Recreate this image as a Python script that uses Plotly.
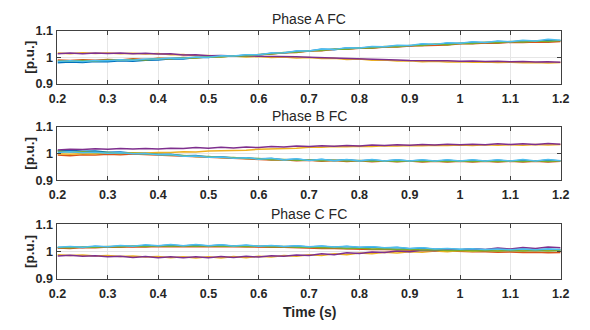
import plotly.graph_objects as go

# ---------------- data ----------------
TIME = [0.2, 0.225, 0.25, 0.275, 0.3, 0.325, 0.35, 0.375, 0.4, 0.425, 0.45, 0.475,
        0.5, 0.525, 0.55, 0.575, 0.6, 0.625, 0.65, 0.675, 0.7, 0.725, 0.75, 0.775,
        0.8, 0.825, 0.85, 0.875, 0.9, 0.925, 0.95, 0.975, 1.0, 1.025, 1.05, 1.075,
        1.1, 1.125, 1.15, 1.175, 1.2]

X_TICKS = [0.2, 0.3, 0.4, 0.5, 0.6, 0.7, 0.8, 0.9, 1.0, 1.1, 1.2]
X_TICK_LABELS = ["0.2", "0.3", "0.4", "0.5", "0.6", "0.7", "0.8", "0.9", "1", "1.1", "1.2"]
Y_TICKS = [0.9, 1.0, 1.1]
Y_TICK_LABELS = ["0.9", "1", "1.1"]

PANEL_TITLES = ["Phase A FC", "Phase B FC", "Phase C FC"]
SERIES_NAMES = ["blue", "orange", "yellow", "purple", "green", "cyan"]

# Phase A
A_BLUE = [0.979, 0.982, 0.980, 0.984, 0.983, 0.987, 0.985, 0.989, 0.990, 0.994, 0.993, 0.999, 0.999, 1.005,
          1.004, 1.009, 1.009, 1.015, 1.016, 1.023, 1.024, 1.030, 1.029, 1.035, 1.034, 1.039, 1.039, 1.044,
          1.043, 1.049, 1.048, 1.053, 1.052, 1.057, 1.055, 1.060, 1.058, 1.063, 1.060, 1.065, 1.063]
A_ORANGE = [0.990, 0.988, 0.991, 0.989, 0.992, 0.990, 0.994, 0.992, 0.996, 0.995, 0.999, 0.998, 1.002, 1.002,
            1.006, 1.005, 1.010, 1.012, 1.017, 1.018, 1.024, 1.025, 1.030, 1.030, 1.034, 1.034, 1.039, 1.039,
            1.043, 1.044, 1.047, 1.047, 1.051, 1.051, 1.054, 1.053, 1.057, 1.056, 1.058, 1.057, 1.060]
A_YELLOW = [1.016, 1.013, 1.017, 1.014, 1.016, 1.013, 1.015, 1.012, 1.014, 1.010, 1.011, 1.006, 1.007, 1.003,
            1.005, 1.001, 1.003, 0.999, 1.001, 0.997, 0.999, 0.995, 0.996, 0.992, 0.993, 0.989, 0.990, 0.986,
            0.987, 0.983, 0.985, 0.982, 0.983, 0.981, 0.982, 0.980, 0.981, 0.979, 0.980, 0.978, 0.980]
A_PURPLE = [1.013, 1.016, 1.013, 1.016, 1.014, 1.016, 1.013, 1.015, 1.012, 1.013, 1.009, 1.010, 1.006, 1.007,
            1.005, 1.006, 1.004, 1.004, 1.002, 1.002, 1.000, 0.999, 0.997, 0.996, 0.994, 0.993, 0.991, 0.990,
            0.988, 0.988, 0.986, 0.987, 0.985, 0.986, 0.984, 0.985, 0.983, 0.984, 0.982, 0.983, 0.981]
A_GREEN = [0.986, 0.985, 0.988, 0.986, 0.990, 0.989, 0.992, 0.990, 0.995, 0.994, 0.998, 0.997, 1.002, 1.001,
           1.006, 1.005, 1.011, 1.012, 1.018, 1.019, 1.025, 1.026, 1.031, 1.030, 1.036, 1.035, 1.041, 1.040,
           1.045, 1.045, 1.050, 1.048, 1.053, 1.052, 1.057, 1.055, 1.060, 1.058, 1.062, 1.060, 1.064]
A_CYAN = [0.984, 0.987, 0.984, 0.988, 0.987, 0.991, 0.989, 0.993, 0.993, 0.997, 0.996, 1.001, 1.000, 1.006,
          1.005, 1.010, 1.010, 1.016, 1.017, 1.024, 1.024, 1.031, 1.030, 1.036, 1.035, 1.041, 1.040, 1.046,
          1.045, 1.051, 1.049, 1.055, 1.053, 1.059, 1.056, 1.062, 1.059, 1.065, 1.062, 1.068, 1.065]

# Phase B
B_BLUE = [1.010, 1.012, 1.008, 1.009, 1.005, 1.006, 1.001, 1.002, 0.997, 0.997, 0.992, 0.993, 0.987, 0.988,
          0.983, 0.984, 0.980, 0.981, 0.977, 0.979, 0.975, 0.978, 0.974, 0.977, 0.973, 0.976, 0.972, 0.976,
          0.972, 0.975, 0.971, 0.975, 0.971, 0.975, 0.971, 0.975, 0.971, 0.975, 0.971, 0.976, 0.972]
B_ORANGE = [0.994, 0.992, 0.995, 0.994, 0.997, 0.995, 0.998, 0.996, 0.996, 0.993, 0.992, 0.989, 0.988, 0.984,
            0.984, 0.980, 0.980, 0.976, 0.977, 0.973, 0.975, 0.971, 0.974, 0.970, 0.973, 0.969, 0.972, 0.969,
            0.972, 0.968, 0.971, 0.968, 0.971, 0.968, 0.971, 0.968, 0.971, 0.968, 0.971, 0.968, 0.971]
B_YELLOW = [0.999, 0.997, 1.000, 0.999, 1.002, 1.000, 1.003, 1.002, 1.004, 1.004, 1.007, 1.006, 1.009, 1.010,
            1.013, 1.012, 1.016, 1.017, 1.020, 1.020, 1.023, 1.023, 1.026, 1.025, 1.027, 1.026, 1.029, 1.028,
            1.030, 1.029, 1.031, 1.030, 1.032, 1.030, 1.033, 1.031, 1.033, 1.031, 1.034, 1.032, 1.034]
B_PURPLE = [1.013, 1.016, 1.015, 1.018, 1.016, 1.019, 1.017, 1.019, 1.017, 1.020, 1.019, 1.022, 1.020, 1.023,
            1.021, 1.024, 1.022, 1.026, 1.024, 1.028, 1.026, 1.029, 1.027, 1.030, 1.028, 1.032, 1.030, 1.033,
            1.031, 1.034, 1.032, 1.035, 1.033, 1.035, 1.033, 1.036, 1.034, 1.036, 1.034, 1.037, 1.035]
B_GREEN = [1.008, 1.006, 1.007, 1.004, 1.004, 1.001, 1.001, 0.998, 0.997, 0.994, 0.993, 0.989, 0.989, 0.985,
           0.985, 0.981, 0.981, 0.977, 0.978, 0.975, 0.976, 0.973, 0.975, 0.972, 0.974, 0.971, 0.973, 0.970,
           0.973, 0.970, 0.972, 0.970, 0.972, 0.970, 0.972, 0.970, 0.972, 0.970, 0.973, 0.970, 0.973]
B_CYAN = [1.004, 1.007, 1.003, 1.005, 1.001, 1.003, 0.999, 1.000, 0.995, 0.996, 0.990, 0.991, 0.986, 0.987,
          0.982, 0.984, 0.979, 0.982, 0.976, 0.980, 0.974, 0.979, 0.973, 0.978, 0.972, 0.978, 0.972, 0.977,
          0.972, 0.977, 0.972, 0.977, 0.972, 0.977, 0.972, 0.977, 0.972, 0.978, 0.972, 0.978, 0.973]

# Phase C
C_BLUE = [1.014, 1.017, 1.015, 1.019, 1.017, 1.021, 1.019, 1.023, 1.021, 1.024, 1.021, 1.024, 1.021, 1.024,
          1.020, 1.023, 1.019, 1.022, 1.018, 1.021, 1.017, 1.020, 1.016, 1.019, 1.015, 1.017, 1.013, 1.015,
          1.011, 1.013, 1.009, 1.011, 1.008, 1.010, 1.007, 1.009, 1.006, 1.009, 1.006, 1.009, 1.006]
C_ORANGE = [1.013, 1.012, 1.015, 1.014, 1.017, 1.016, 1.018, 1.017, 1.019, 1.018, 1.019, 1.018, 1.019, 1.018,
            1.018, 1.017, 1.017, 1.016, 1.016, 1.014, 1.014, 1.012, 1.012, 1.010, 1.010, 1.008, 1.008, 1.006,
            1.006, 1.004, 1.004, 1.002, 1.002, 1.000, 1.000, 0.998, 0.999, 0.997, 0.998, 0.996, 0.997]
C_YELLOW = [0.989, 0.986, 0.988, 0.984, 0.986, 0.982, 0.984, 0.980, 0.982, 0.978, 0.981, 0.977, 0.981, 0.977,
            0.982, 0.978, 0.983, 0.980, 0.986, 0.983, 0.989, 0.986, 0.992, 0.989, 0.995, 0.992, 0.998, 0.995,
            1.000, 0.998, 1.002, 1.000, 1.004, 1.001, 1.005, 1.002, 1.006, 1.003, 1.007, 1.004, 1.007]
C_PURPLE = [0.984, 0.987, 0.983, 0.985, 0.981, 0.983, 0.979, 0.982, 0.978, 0.981, 0.978, 0.981, 0.978, 0.982,
            0.979, 0.983, 0.980, 0.985, 0.983, 0.988, 0.986, 0.992, 0.989, 0.996, 0.993, 0.999, 0.997, 1.002,
            1.000, 1.005, 1.003, 1.008, 1.006, 1.011, 1.008, 1.013, 1.010, 1.015, 1.012, 1.017, 1.014]
C_GREEN = [1.015, 1.014, 1.017, 1.016, 1.019, 1.018, 1.021, 1.019, 1.022, 1.020, 1.022, 1.020, 1.022, 1.020,
           1.021, 1.019, 1.020, 1.018, 1.019, 1.016, 1.017, 1.014, 1.015, 1.012, 1.013, 1.010, 1.011, 1.008,
           1.009, 1.006, 1.007, 1.004, 1.005, 1.003, 1.004, 1.002, 1.004, 1.002, 1.004, 1.002, 1.004]
C_CYAN = [1.016, 1.019, 1.016, 1.021, 1.018, 1.023, 1.020, 1.025, 1.022, 1.026, 1.022, 1.026, 1.022, 1.025,
          1.021, 1.024, 1.020, 1.023, 1.019, 1.022, 1.018, 1.021, 1.017, 1.020, 1.016, 1.018, 1.014, 1.016,
          1.012, 1.014, 1.010, 1.012, 1.009, 1.011, 1.008, 1.010, 1.007, 1.010, 1.007, 1.010, 1.008]

PANELS = [
    [A_BLUE, A_ORANGE, A_YELLOW, A_PURPLE, A_GREEN, A_CYAN],
    [B_BLUE, B_ORANGE, B_YELLOW, B_PURPLE, B_GREEN, B_CYAN],
    [C_BLUE, C_ORANGE, C_YELLOW, C_PURPLE, C_GREEN, C_CYAN],
]

# ---------------- style ----------------
COLORS = ["#0072BD", "#D95319", "#EDB120", "#7E2F8E", "#77AC30", "#4DBEEE"]
W, H = 590, 330
X0, X1 = 50, 569                       # plot area left/right (px)
PANEL_PX = [(25, 80), (125, 181), (227, 284)]   # top/bottom (px)
TITLE_Y = [13, 114, 216]
FONT = "Arial, 'Liberation Sans', sans-serif"
AXIS_COL = "#404040"


def py(v):
    return 1 - v / H


def px(v):
    return v / W


fig = go.Figure()
layout = dict(
    width=W, height=H, margin=dict(l=0, r=0, t=0, b=0),
    paper_bgcolor="white", plot_bgcolor="white", showlegend=False,
    font=dict(family=FONT, color="#262626"),
)
annotations = []

for k, series in enumerate(PANELS):
    suffix = "" if k == 0 else str(k + 1)
    for name, ys, col in zip(SERIES_NAMES, series, COLORS):
        fig.add_trace(go.Scatter(x=TIME, y=ys, mode="lines", name=name,
                                 line=dict(color=col, width=1.5),
                                 xaxis="x" + suffix, yaxis="y" + suffix))
    top, bot = PANEL_PX[k]
    layout["xaxis" + suffix] = dict(
        domain=[px(X0), px(X1)], anchor="y" + suffix, range=[0.2, 1.2],
        tickvals=X_TICKS, ticktext=X_TICK_LABELS,
        ticks="inside", ticklen=4, tickcolor=AXIS_COL, tickwidth=1,
        showline=True, linecolor=AXIS_COL, linewidth=1, mirror="ticks",
        showgrid=True, gridcolor="#e6e6e6", gridwidth=1, zeroline=False,
        tickfont=dict(family=FONT, size=12.5, color="#262626", weight="bold"),
        ticklabelstandoff=3,
    )
    layout["yaxis" + suffix] = dict(
        domain=[py(bot), py(top)], anchor="x" + suffix, range=[0.9, 1.1],
        tickvals=Y_TICKS, ticktext=Y_TICK_LABELS,
        ticks="inside", ticklen=4, tickcolor=AXIS_COL, tickwidth=1,
        showline=True, linecolor=AXIS_COL, linewidth=1, mirror="ticks",
        showgrid=True, gridcolor="#e6e6e6", gridwidth=1, zeroline=False,
        tickfont=dict(family=FONT, size=12.5, color="#262626", weight="bold"),
        ticklabelstandoff=1,
    )
    annotations.append(dict(
        text=PANEL_TITLES[k], x=px((X0 + X1) / 2), y=py(TITLE_Y[k]),
        xref="paper", yref="paper", showarrow=False, xanchor="center", yanchor="middle",
        font=dict(family=FONT, size=14, color="#262626")))
    annotations.append(dict(
        text="[p.u.]", x=px(21), y=py((top + bot) / 2), textangle=-90,
        xref="paper", yref="paper", showarrow=False, xanchor="center", yanchor="middle",
        font=dict(family=FONT, size=13.5, color="#262626", weight="bold")))

annotations.append(dict(
    text="Time (s)", x=px((X0 + X1) / 2), y=py(318),
    xref="paper", yref="paper", showarrow=False, xanchor="center", yanchor="middle",
    font=dict(family=FONT, size=14, color="#262626", weight="bold")))

layout["annotations"] = annotations
fig.update_layout(**layout)
fig.write_html("out.html")
